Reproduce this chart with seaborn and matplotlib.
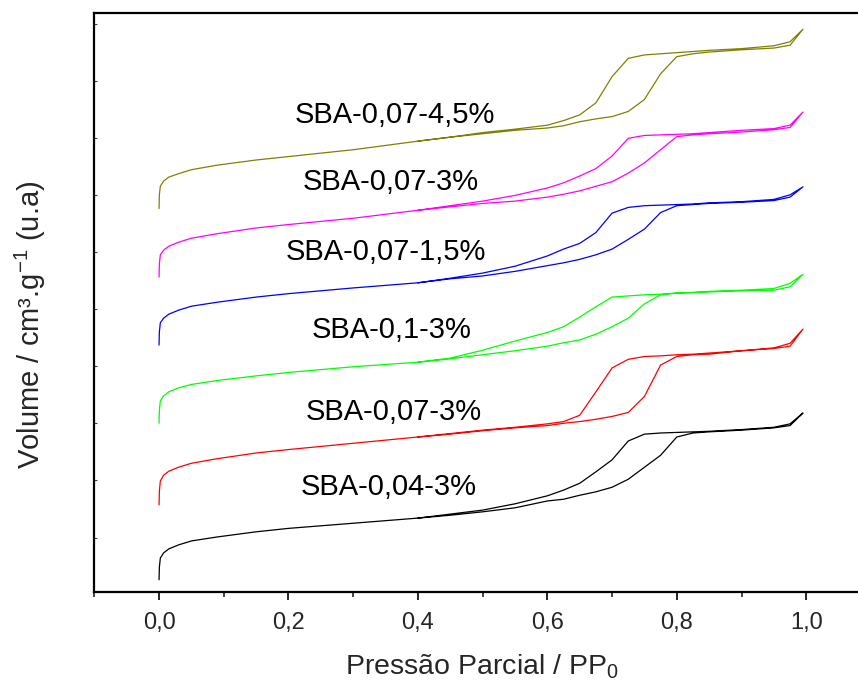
import numpy as np
import pandas as pd
import matplotlib
matplotlib.use("Agg")
import matplotlib.pyplot as plt
import seaborn as sns
from matplotlib.ticker import FixedLocator, FixedFormatter

# ---------------- data ----------------
samples = ["SBA-0,04-3%", "SBA-0,07-3%", "SBA-0,1-3%",
           "SBA-0,07-1,5%", "SBA-0,07-3%", "SBA-0,07-4,5%"]
colors = ["#000000", "#FF0000", "#00FF00", "#0000FF", "#FF00FF", "#808000"]

# relative pressure P/P0, adsorption branch (increasing)
p_ads = [0.0, 0.0005, 0.002, 0.007, 0.015, 0.03, 0.05, 0.09, 0.15, 0.2,
         0.3, 0.4, 0.45, 0.5, 0.55, 0.6, 0.625, 0.65, 0.675, 0.7,
         0.725, 0.75, 0.775, 0.8, 0.825, 0.85, 0.9, 0.95, 0.975, 0.995]
# desorption branch (decreasing, continues from 0.995)
p_des = [0.975, 0.95, 0.9, 0.85, 0.825, 0.8, 0.775, 0.75, 0.725, 0.7,
         0.675, 0.65, 0.625, 0.6, 0.55, 0.5, 0.45, 0.4]

# volume adsorbed (u.a., curves offset vertically)
ads_0 = [26, 48, 64, 73, 80, 87, 94, 101, 110, 116, 125, 134, 139, 145, 152,
         164, 167, 174, 180, 188, 202, 223, 244, 276, 283, 285, 288, 292, 296, 318]
des_0 = [299, 293, 289, 286, 285, 284, 283, 281, 269, 236, 215, 195, 183, 173,
         159, 148, 141, 134]

ads_1 = [157, 181, 199, 209, 216, 223, 230, 238, 248, 254, 265, 276, 281, 287, 292,
         296, 300, 303, 307, 312, 319, 347, 402, 417, 420, 421, 427, 431, 435, 465]
des_1 = [440, 432, 427, 423, 421, 420, 418, 417, 412, 397, 355, 314, 303, 299,
         293, 288, 282, 276]

ads_2 = [300, 323, 339, 348, 355, 362, 368, 375, 383, 389, 399, 407, 413, 420, 427,
         435, 441, 446, 456, 469, 484, 509, 525, 528, 529, 530, 532, 533, 539, 561]
des_2 = [545, 536, 533, 531, 529, 528, 526, 525, 523, 521, 504, 486, 469, 459,
         444, 428, 414, 407]

ads_3 = [437, 460, 476, 484, 491, 498, 505, 512, 521, 527, 537, 546, 553, 558, 566,
         576, 581, 587, 595, 605, 622, 640, 669, 681, 683, 685, 687, 690, 696, 714]
des_3 = [700, 692, 688, 686, 684, 683, 682, 681, 678, 668, 634, 615, 605, 593,
         575, 563, 554, 546]

ads_4 = [556, 579, 595, 603, 610, 617, 624, 632, 642, 648, 659, 673, 679, 685, 689,
         696, 701, 707, 715, 723, 738, 756, 779, 802, 805, 807, 810, 814, 818, 845]
des_4 = [822, 816, 813, 809, 807, 806, 805, 804, 799, 768, 746, 733, 721, 712,
         699, 689, 681, 673]

ads_5 = [676, 700, 715, 724, 731, 737, 744, 752, 761, 767, 779, 794, 801, 807, 813,
         817, 821, 828, 833, 837, 846, 867, 912, 942, 947, 950, 954, 957, 962, 990]
des_5 = [968, 961, 956, 953, 951, 949, 947, 945, 939, 907, 861, 840, 830, 822,
         815, 809, 801, 794]

ads_all = [ads_0, ads_1, ads_2, ads_3, ads_4, ads_5]
des_all = [des_0, des_1, des_2, des_3, des_4, des_5]

xtick_vals = [0.0, 0.2, 0.4, 0.6, 0.8, 1.0]
xtick_labels = ["0,0", "0,2", "0,4", "0,6", "0,8", "1,0"]
xminor_vals = [-0.1, 0.1, 0.3, 0.5, 0.7, 0.9]
ytick_vals = [100, 200, 300, 400, 500, 600, 700, 800, 900, 1000]

# label placement (text anchors, P/P0 and u.a.)
label_pos = [(0.355, 174), (0.363, 306), (0.360, 449),
             (0.351, 586), (0.3586, 709), (0.364, 826)]

# ---------------- build table ----------------
rows = []
for i in range(len(samples)):
    xs = list(p_ads) + list(p_des)
    ys = list(ads_all[i]) + list(des_all[i])
    for x, y in zip(xs, ys):
        rows.append({"curve": i, "P": x, "V": y})
df = pd.DataFrame(rows)

# ---------------- plot ----------------
sns.set_style("white")
plt.rcParams["font.family"] = ["Liberation Sans", "DejaVu Sans"]
plt.rcParams["mathtext.default"] = "regular"

fig = plt.figure(figsize=(8.58, 6.81), dpi=100)
ax = fig.add_axes([94 / 858, 1 - 592 / 681, 764 / 858, 579 / 681])

sns.lineplot(data=df, x="P", y="V", hue="curve", palette=colors,
             sort=False, estimator=None, legend=False, linewidth=0.9, ax=ax)

for i, (lx, ly) in enumerate(label_pos):
    ax.text(lx, ly, samples[i], fontsize=21, ha="center", va="baseline",
            color="black")

ax.set_xlim(-0.1005, 1.080)
ax.set_ylim(4.6, 1018.4)

ax.xaxis.set_major_locator(FixedLocator(xtick_vals))
ax.xaxis.set_major_formatter(FixedFormatter(xtick_labels))
ax.xaxis.set_minor_locator(FixedLocator(xminor_vals))
ax.yaxis.set_major_locator(FixedLocator(ytick_vals))
ax.set_yticklabels([])

ax.tick_params(axis="x", which="major", direction="out", length=6, width=1.4,
               labelsize=17, pad=8.5, bottom=True, top=False)
ax.tick_params(axis="x", which="minor", direction="out", length=3.5, width=1.2,
               bottom=True, top=False)
ax.tick_params(axis="y", which="major", direction="in", length=2.5, width=0.8,
               left=True, right=False, labelleft=False, color="#444444")

for side in ["left", "bottom", "top"]:
    ax.spines[side].set_linewidth(1.6)
    ax.spines[side].set_color("black")
ax.spines["right"].set_visible(False)

ax.set_xlabel("Pressão Parcial / PP$_0$", fontsize=20.5)
ax.xaxis.set_label_coords(0.508, -0.1040)
ax.xaxis.label.set_va("top")
ax.set_ylabel("Volume / cm³.g$^{-1}$ (u.a)", fontsize=21)
ax.yaxis.set_label_coords(-0.060, 0.461)

fig.savefig("out.png", dpi=100)
